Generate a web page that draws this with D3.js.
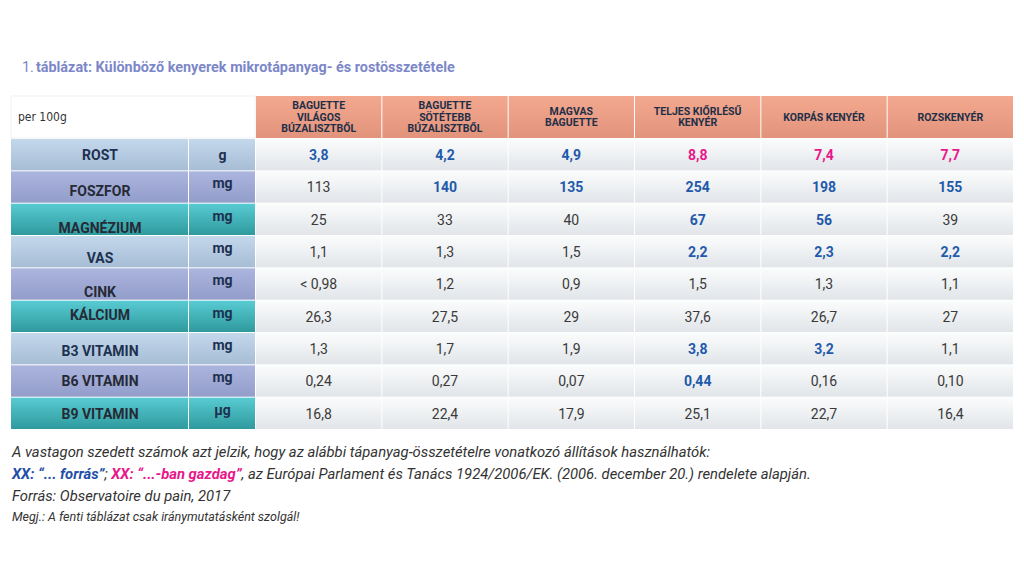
<!DOCTYPE html>
<html>
<head>
<meta charset="utf-8">
<script src="https://cdn.jsdelivr.net/npm/d3@7"></script>
<style>
  body { margin: 0; background: #fff; }
  text { font-family: Roboto, "Noto Sans", sans-serif; }
  .note { font-family: "Liberation Sans Narrow", "DejaVu Sans Condensed", sans-serif; font-style: italic; }
</style>
</head>
<body>
<div id="wrapper"></div>
<script>
// table data
const breads = [
  ["BAGUETTE", "VILÁGOS", "BÚZALISZTBŐL"],
  ["BAGUETTE", "SÖTÉTEBB", "BÚZALISZTBŐL"],
  ["MAGVAS", "BAGUETTE"],
  ["TELJES KIŐRLÉSŰ", "KENYÉR"],
  ["KORPÁS KENYÉR"],
  ["ROZSKENYÉR"]
]
const nutrients = ["ROST", "FOSZFOR", "MAGNÉZIUM", "VAS", "CINK", "KÁLCIUM", "B3 VITAMIN", "B6 VITAMIN", "B9 VITAMIN"]
const units = ["g", "mg", "mg", "mg", "mg", "mg", "mg", "mg", "µg"]
const values = [
  ["3,8", "4,2", "4,9", "8,8", "7,4", "7,7"],
  ["113", "140", "135", "254", "198", "155"],
  ["25", "33", "40", "67", "56", "39"],
  ["1,1", "1,3", "1,5", "2,2", "2,3", "2,2"],
  ["< 0,98", "1,2", "0,9", "1,5", "1,3", "1,1"],
  ["26,3", "27,5", "29", "37,6", "26,7", "27"],
  ["1,3", "1,7", "1,9", "3,8", "3,2", "1,1"],
  ["0,24", "0,27", "0,07", "0,44", "0,16", "0,10"],
  ["16,8", "22,4", "17,9", "25,1", "22,7", "16,4"]
]
// n = normal, s = "forrás" (blue bold), g = "gazdag" (pink bold)
const claims = [
  ["s", "s", "s", "g", "g", "g"],
  ["n", "s", "s", "s", "s", "s"],
  ["n", "n", "n", "s", "s", "n"],
  ["n", "n", "n", "s", "s", "s"],
  ["n", "n", "n", "n", "n", "n"],
  ["n", "n", "n", "n", "n", "n"],
  ["n", "n", "n", "s", "s", "n"],
  ["n", "n", "n", "s", "n", "n"],
  ["n", "n", "n", "n", "n", "n"]
]
const title = "táblázat: Különböző kenyerek mikrotápanyag- és rostösszetétele"

// small vertical nudges of the row labels, as in the original layout
const labelShift = [0, 4, 8, 6, 8, -2, 2, 0, 0]

const width = 1024, height = 576
const svg = d3.select("#wrapper").append("svg")
  .attr("width", width).attr("height", height)

const defs = svg.append("defs")
function grad(id, top, bottom) {
  const g = defs.append("linearGradient").attr("id", id)
    .attr("x1", 0).attr("y1", 0).attr("x2", 0).attr("y2", 1)
  g.append("stop").attr("offset", "0%").attr("stop-color", top)
  g.append("stop").attr("offset", "100%").attr("stop-color", bottom)
}
grad("cell", "#fbfcfc", "#e1e5e9")
grad("head", "#f3a98f", "#e2937b")
grad("lblue", "#c4d8ec", "#a6bdd5")
grad("lav", "#abb5de", "#939dca")
grad("teal", "#58cbd2", "#2f9a9e")
const labelFills = ["lblue", "lav", "teal"]

const colColor = { n: "#3a3a3a", s: "#1f5aab", g: "#e8188a" }

// scales
const x = d3.scaleBand().domain(d3.range(breads.length)).range([256, 1014])
const y = d3.scaleBand().domain(d3.range(nutrients.length)).range([139, 430])
const headTop = 96, headBottom = 138
const leftX = 11, unitX = 189

// title
const t = svg.append("text").attr("x", 22).attr("y", 72)
  .attr("font-size", 14.4).attr("fill", "#7c87c8")
t.append("tspan").attr("font-weight", 400).text("1.")
t.append("tspan").attr("dx", 2).attr("font-weight", 700).text(title)

// header
svg.append("rect").attr("x", leftX).attr("y", headTop)
  .attr("width", x(0) - leftX - 1).attr("height", headBottom - headTop)
  .attr("fill", "#fff").attr("stroke", "#f2f2f2")
svg.append("text").attr("x", 18).attr("y", headTop + 25)
  .attr("font-size", 12).attr("fill", "#333")
  .style("font-family", "'Liberation Sans Narrow', 'DejaVu Sans Condensed', sans-serif")
  .text("per 100g")

const head = svg.append("g").selectAll("g").data(breads).join("g")
  .attr("transform", (d, i) => "translate(" + x(i) + "," + headTop + ")")
head.append("rect")
  .attr("width", x.bandwidth() - 1).attr("height", headBottom - headTop)
  .attr("fill", "url(#head)")
head.each(function(lines) {
  const g = d3.select(this)
  const mid = (headBottom - headTop) / 2
  const lh = 11.5
  lines.forEach((l, k) => {
    g.append("text")
      .attr("x", (x.bandwidth() - 1) / 2)
      .attr("y", mid + (k - (lines.length - 1) / 2) * lh)
      .attr("dy", "0.35em")
      .attr("text-anchor", "middle")
      .attr("font-size", 10.5).attr("font-weight", 700)
      .attr("fill", "#1f2f48")
      .text(l)
  })
})

// row labels and units
const rows = svg.append("g").selectAll("g").data(nutrients).join("g")
  .attr("transform", (d, i) => "translate(0," + y(i) + ")")
rows.append("rect").attr("x", leftX).attr("width", unitX - leftX - 1)
  .attr("height", y.bandwidth() - 1)
  .attr("fill", (d, i) => "url(#" + labelFills[i % 3] + ")")
rows.append("rect").attr("x", unitX).attr("width", x(0) - unitX - 1)
  .attr("height", y.bandwidth() - 1)
  .attr("fill", (d, i) => "url(#" + labelFills[i % 3] + ")")
rows.append("text")
  .attr("x", (leftX + unitX) / 2)
  .attr("y", (d, i) => y.bandwidth() / 2 + labelShift[i])
  .attr("dy", "0.35em").attr("text-anchor", "middle")
  .attr("font-size", 14).attr("font-weight", 700)
  .attr("fill", (d, i) => i % 3 === 0 ? "#1d3150" : "#262a36")
  .text(d => d)
rows.append("text")
  .attr("x", (unitX + x(0)) / 2)
  .attr("y", (d, i) => y.bandwidth() / 2 + (i === 0 ? 0 : -4))
  .attr("dy", "0.35em").attr("text-anchor", "middle")
  .attr("font-size", 14).attr("font-weight", 700)
  .attr("fill", "#1d3150")
  .text((d, i) => units[i])

// value cells
const cells = svg.append("g").selectAll("g").data(values).join("g")
  .attr("transform", (d, i) => "translate(0," + y(i) + ")")
  .selectAll("g").data((row, i) => row.map((v, j) => ({ v: v, c: claims[i][j], j: j })))
  .join("g")
  .attr("transform", d => "translate(" + x(d.j) + ",0)")
cells.append("rect")
  .attr("width", x.bandwidth() - 1).attr("height", y.bandwidth() - 1)
  .attr("fill", "url(#cell)")
cells.append("text")
  .attr("x", (x.bandwidth() - 1) / 2).attr("y", y.bandwidth() / 2)
  .attr("dy", "0.35em").attr("text-anchor", "middle")
  .attr("font-size", 14)
  .attr("font-weight", d => d.c === "n" ? 400 : 700)
  .attr("fill", d => colColor[d.c])
  .text(d => d.v)

// notes
const notes = svg.append("g").attr("class", "note")
notes.append("text").attr("x", 12).attr("y", 457).attr("font-size", 14.8).attr("fill", "#333")
  .text("A vastagon szedett számok azt jelzik, hogy az alábbi tápanyag-összetételre vonatkozó állítások használhatók:")
const n2 = notes.append("text").attr("x", 12).attr("y", 479).attr("font-size", 14.8).attr("fill", "#333")
n2.append("tspan").attr("font-weight", 700).attr("fill", "#1f4fa8").text("XX: “... forrás”")
n2.append("tspan").text("; ")
n2.append("tspan").attr("font-weight", 700).attr("fill", "#e8188a").text("XX: “...-ban gazdag”")
n2.append("tspan").text(", az Európai Parlament és Tanács 1924/2006/EK. (2006. december 20.) rendelete alapján.")
notes.append("text").attr("x", 12).attr("y", 501).attr("font-size", 14.8).attr("fill", "#333")
  .text("Forrás: Observatoire du pain, 2017")
notes.append("text").attr("x", 12).attr("y", 521).attr("font-size", 12.5).attr("fill", "#333")
  .text("Megj.: A fenti táblázat csak iránymutatásként szolgál!")
</script>
</body>
</html>
